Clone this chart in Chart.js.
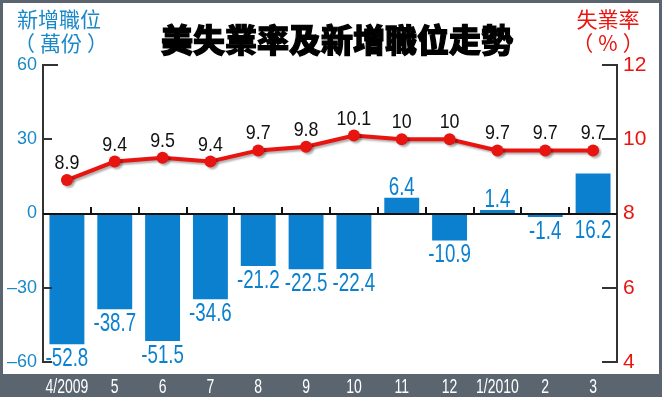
<!DOCTYPE html>
<html>
<head>
<meta charset="utf-8">
<script src="https://cdn.jsdelivr.net/npm/chart.js@4.4.1/dist/chart.umd.min.js"></script>
<style>
  html, body { margin: 0; padding: 0; background: #5a6570; }
  #wrap { position: relative; width: 662px; height: 397px; }
  .t { position: absolute; font-family: "Noto Sans CJK TC", sans-serif; white-space: nowrap; text-align: center; }
  .p { display: inline-block; margin: 0 5px; }
</style>
</head>
<body>
<div id="wrap">
  <canvas id="jobs-chart" width="662" height="397"></canvas>
  <div class="t" style="left:137px; top:20px; width:400px; font-size:32px; line-height:36px; font-weight:900; color:#000; -webkit-text-stroke:1.2px #000;">美失業率及新增職位走勢</div>
  <div class="t" style="left:9px; top:6px; width:100px; font-size:21px; line-height:24px; color:#1a88c8;">新增職位<br><span class="p">（</span>萬份<span class="p">）</span></div>
  <div class="t" style="left:558px; top:6px; width:100px; font-size:21px; line-height:24px; color:#e8140f;">失業率<br><span class="p">（</span>%<span class="p">）</span></div>
</div>
<script>
// data
const months = ["4/2009", "5", "6", "7", "8", "9", "10", "11", "12", "1/2010", "2", "3"];
const newJobs = [-52.8, -38.7, -51.5, -34.6, -21.2, -22.5, -22.4, 6.4, -10.9, 1.4, -1.4, 16.2];
const joblessRate = [8.9, 9.4, 9.5, 9.4, 9.7, 9.8, 10.1, 10, 10, 9.7, 9.7, 9.7];
const jobTicks = [60, 30, 0, -30, -60];
const rateTicks = [12, 10, 8, 6, 4];

const blue = "#0a80cf";
const red = "#e8140f";
const sans = "'Liberation Sans', Arial, sans-serif";

// condensed text: squeeze horizontally around x
function narrowText(ctx, text, x, y, squeeze) {
  ctx.save();
  ctx.translate(x, y);
  ctx.scale(squeeze, 1);
  ctx.fillText(text, 0, 0);
  ctx.restore();
}

// white panel on dark frame
const framePlugin = {
  id: "frame",
  beforeDraw(chart) {
    const ctx = chart.ctx;
    ctx.save();
    ctx.fillStyle = "#5a6570";
    ctx.fillRect(0, 0, chart.width, chart.height);
    ctx.fillStyle = "#ffffff";
    ctx.fillRect(3, 3, chart.width - 6, 371);
    ctx.restore();
  }
};

// shadow under the red line
const shadowPlugin = {
  id: "shadow",
  beforeDatasetDraw(chart, args) {
    if (args.index !== 1) return;
    const ctx = chart.ctx;
    ctx.save();
    ctx.shadowColor = "rgba(0,0,0,0.3)";
    ctx.shadowOffsetX = 2;
    ctx.shadowOffsetY = 2;
    ctx.shadowBlur = 2;
  },
  afterDatasetDraw(chart, args) {
    if (args.index !== 1) return;
    chart.ctx.restore();
  }
};

// zero line, inward ticks, month labels and value labels
const marksPlugin = {
  id: "marks",
  afterDatasetsDraw(chart) {
    const ctx = chart.ctx;
    const area = chart.chartArea;
    const x = chart.scales.x;
    const y = chart.scales.y;
    const y1 = chart.scales.y1;
    ctx.save();
    ctx.strokeStyle = "#333333";
    ctx.lineWidth = 2;

    jobTicks.forEach((v, i) => {
      const py = Math.round(y.getPixelForValue(v));
      ctx.beginPath();
      ctx.moveTo(area.left, py);
      ctx.lineTo(area.left + (i === 0 ? 15 : 9), py);
      ctx.stroke();
    });
    rateTicks.forEach(v => {
      const py = Math.round(y1.getPixelForValue(v));
      ctx.beginPath();
      ctx.moveTo(area.right - 15, py);
      ctx.lineTo(area.right, py);
      ctx.stroke();
    });

    const y0 = Math.round(y.getPixelForValue(0));
    ctx.strokeStyle = "#111111";
    ctx.beginPath();
    ctx.moveTo(area.left, y0);
    ctx.lineTo(area.right, y0);
    ctx.stroke();
    for (let i = 1; i < months.length; i++) {
      const bx = Math.round((x.getPixelForValue(i - 1) + x.getPixelForValue(i)) / 2);
      ctx.beginPath();
      ctx.moveTo(bx, y0);
      ctx.lineTo(bx, y0 - 7);
      ctx.stroke();
    }

    ctx.textAlign = "center";
    ctx.textBaseline = "alphabetic";

    // month labels in the dark band
    ctx.font = "20px " + sans;
    ctx.fillStyle = "#ffffff";
    months.forEach((m, i) => {
      narrowText(ctx, m, x.getPixelForValue(i), 393, 0.7);
    });

    // bar values: below negative bars, above positive ones unless the line is in the way
    const linePts = chart.getDatasetMeta(1).data;
    ctx.font = "26px " + sans;
    ctx.fillStyle = blue;
    chart.getDatasetMeta(0).data.forEach((el, i) => {
      const v = newJobs[i];
      let ty = v < 0 ? el.y + 22 : el.y - 3;
      if (v >= 0 && ty - 19 < linePts[i].y + 10) ty = y0 + 24;
      narrowText(ctx, String(v), el.x, ty, 0.72);
    });

    ctx.font = "21px " + sans;
    ctx.fillStyle = "#111111";
    linePts.forEach((el, i) => {
      narrowText(ctx, String(joblessRate[i]), el.x, el.y - 11, 0.85);
    });
    ctx.restore();
  }
};

new Chart("jobs-chart", {
  type: "bar",
  data: {
    labels: months,
    datasets: [{
      type: "bar",
      data: newJobs,
      yAxisID: "y",
      backgroundColor: blue,
      barPercentage: 0.73,
      categoryPercentage: 1,
      order: 2
    }, {
      type: "line",
      data: joblessRate,
      yAxisID: "y1",
      borderColor: red,
      borderWidth: 4,
      pointRadius: 6,
      pointBackgroundColor: red,
      pointBorderWidth: 0,
      tension: 0,
      order: 1
    }]
  },
  options: {
    responsive: false,
    animation: false,
    layout: { padding: { top: 65, left: 0, right: 0, bottom: 0 } },
    plugins: {
      legend: { display: false },
      tooltip: { enabled: false }
    },
    scales: {
      x: {
        grid: { display: false, drawTicks: false },
        border: { display: false },
        ticks: { display: false },
        afterFit(s) { s.height = 35; }
      },
      y: {
        position: "left",
        min: -60,
        max: 60,
        grid: { display: false, drawTicks: false },
        border: { display: true, color: "#333333", width: 2 },
        ticks: {
          stepSize: 30,
          color: "#1a88c8",
          padding: 6,
          font: { family: sans, size: 18 },
          callback: v => (v < 0 ? "\u2013" + Math.abs(v) : String(v))
        },
        afterFit(s) { s.width = 43; }
      },
      y1: {
        position: "right",
        min: 4,
        max: 12,
        grid: { display: false, drawTicks: false },
        border: { display: true, color: "#333333", width: 2 },
        ticks: {
          stepSize: 2,
          color: red,
          padding: 6,
          font: { family: sans, size: 21 }
        },
        afterFit(s) { s.width = 45; }
      }
    }
  },
  plugins: [framePlugin, shadowPlugin, marksPlugin]
});
</script>
</body>
</html>
